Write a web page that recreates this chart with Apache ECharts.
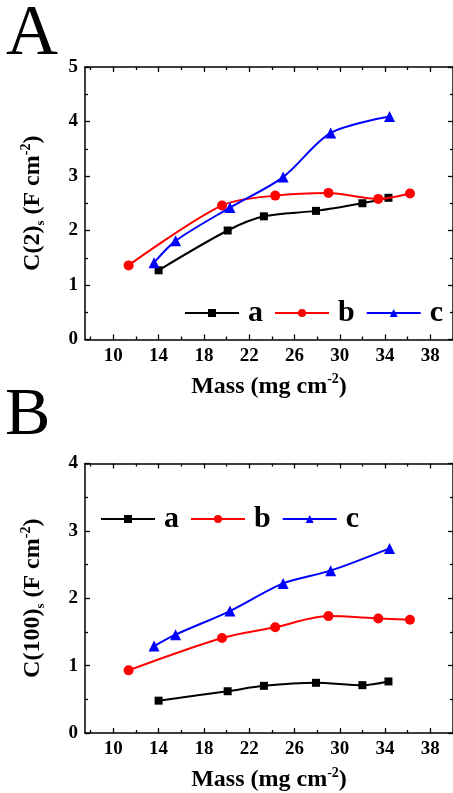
<!DOCTYPE html>
<html><head><meta charset="utf-8">
<script src="https://cdn.jsdelivr.net/npm/echarts@6/dist/echarts.min.js"></script>
<style>html,body{margin:0;padding:0;background:#fff;}#c{width:453px;height:793px;}</style>
</head><body><div id="c"></div>
<script>
// ---- data ----
var seriesNames = ['a', 'b', 'c'];
var massA = [14.0, 20.1, 23.3, 27.9, 32.0, 34.3];
var massB = [11.35, 19.6, 24.3, 29.0, 33.4, 36.2];
var massC = [13.6, 15.5, 20.3, 25.0, 29.2, 34.4];
// Panel A: C(2)s
var c2A = [1.27, 2.00, 2.26, 2.36, 2.50, 2.60];
var c2B = [1.36, 2.46, 2.64, 2.69, 2.58, 2.68];
var c2C = [1.41, 1.81, 2.42, 2.98, 3.79, 4.09];
// Panel B: C(100)s
var c100A = [0.48, 0.62, 0.70, 0.745, 0.71, 0.765];
var c100B = [0.93, 1.41, 1.57, 1.735, 1.70, 1.68];
var c100C = [1.29, 1.46, 1.81, 2.22, 2.41, 2.74];
// ticks
var xMajorTicks = [10, 14, 18, 22, 26, 30, 34, 38];
var xMinorTicks = [8, 12, 16, 20, 24, 28, 32, 36, 40];
var xRange = [7.5, 40];
var yMaxA = 5, yMaxB = 4;

function zip(xs, ys) { return xs.map(function (x, i) { return [x, ys[i]]; }); }

var FONT = 'Liberation Serif';
var colors = ['#000000', '#ff0000', '#0000ff'];
var symbols = ['rect', 'circle', 'triangle'];
var symSizes = [8, 10, 11];

var rich = {
  n: { fontFamily: FONT, fontWeight: 'bold', fontSize: 24, color: '#000', lineHeight: 28 },
  sub: { fontFamily: FONT, fontWeight: 'bold', fontSize: 13, color: '#000', verticalAlign: 'bottom', lineHeight: 28 },
  sup: { fontFamily: FONT, fontWeight: 'bold', fontSize: 14, color: '#000', verticalAlign: 'top', lineHeight: 28 }
};

function xAxes(gi) {
  var base = { type: 'value', gridIndex: gi, min: xRange[0], max: xRange[1], splitLine: { show: false } };
  var line = { show: true, lineStyle: { color: '#000', width: 1.5 } };
  return [
    Object.assign({}, base, {
      position: 'bottom', axisLine: line,
      axisTick: { show: true, inside: true, length: 5, customValues: xMajorTicks, lineStyle: { color: '#000', width: 1.3 } },
      axisLabel: { show: true, customValues: xMajorTicks, margin: 7, fontFamily: FONT, fontWeight: 'bold', fontSize: 19, color: '#000' },
      name: '{n|Mass (mg cm}{sup|-2}{n|)}', nameLocation: 'middle', nameGap: 33,
      nameTextStyle: { rich: rich }
    }),
    Object.assign({}, base, {
      position: 'bottom', axisLine: { show: false },
      axisTick: { show: true, inside: true, length: 3, customValues: xMinorTicks, lineStyle: { color: '#000', width: 1.3 } },
      axisLabel: { show: false }
    }),
    Object.assign({}, base, {
      position: 'top', axisLine: line,
      axisTick: { show: true, inside: true, length: 5, customValues: xMajorTicks, lineStyle: { color: '#000', width: 1.3 } },
      axisLabel: { show: false }
    }),
    Object.assign({}, base, {
      position: 'top', axisLine: { show: false },
      axisTick: { show: true, inside: true, length: 3, customValues: xMinorTicks, lineStyle: { color: '#000', width: 1.3 } },
      axisLabel: { show: false }
    })
  ];
}

function yAxes(gi, ymax, nameStr) {
  var line = { show: true, lineStyle: { color: '#000', width: 1.5 } };
  return [
    {
      type: 'value', gridIndex: gi, position: 'left', min: 0, max: ymax, interval: 1,
      splitLine: { show: false }, axisLine: line,
      axisTick: { show: true, inside: true, length: 5, lineStyle: { color: '#000', width: 1.3 } },
      minorTick: { show: true, splitNumber: 2, length: 3, lineStyle: { color: '#000', width: 1.3 } },
      axisLabel: { margin: 7, fontFamily: FONT, fontWeight: 'bold', fontSize: 19, color: '#000' },
      name: nameStr, nameLocation: 'middle', nameGap: 38, nameRotate: 90,
      nameTextStyle: { rich: rich }
    },
    {
      type: 'value', gridIndex: gi, position: 'right', min: 0, max: ymax, interval: 1,
      splitLine: { show: false }, axisLine: line,
      axisTick: { show: true, inside: true, length: 5, lineStyle: { color: '#000', width: 1.3 } },
      minorTick: { show: true, splitNumber: 2, length: 3, lineStyle: { color: '#000', width: 1.3 } },
      axisLabel: { show: false }
    }
  ];
}

function mkSeries(i, xs, ys, xi, yi) {
  return {
    name: seriesNames[i], type: 'line', xAxisIndex: xi, yAxisIndex: yi,
    data: zip(xs, ys), smooth: 0.3,
    symbol: symbols[i], symbolSize: symSizes[i], showAllSymbol: true,
    lineStyle: { color: colors[i], width: 2 },
    itemStyle: { color: colors[i] },
    z: 3 + i
  };
}

var legendText = { fontFamily: FONT, fontWeight: 'bold', fontSize: 30, color: '#000', padding: [0, 0, 0, 4] };

var option = {
  animation: false,
  backgroundColor: '#fff',
  title: [
    { text: 'A', left: 6, top: -1, padding: [0, 0, 0, 0], textStyle: { fontFamily: FONT, fontWeight: 'normal', fontSize: 72, color: '#000', lineHeight: 72 } },
    { text: 'B', left: 5, top: 382, padding: [0, 0, 0, 0], textStyle: { fontFamily: FONT, fontWeight: 'normal', fontSize: 68, color: '#000', lineHeight: 68 } }
  ],
  legend: [
    { data: seriesNames, left: 184, top: 298, padding: 0, width: 280, itemWidth: 54, itemHeight: 10, itemGap: 11, textStyle: legendText, selectedMode: false },
    { data: seriesNames, left: 100, top: 504, padding: 0, width: 300, itemWidth: 54, itemHeight: 10, itemGap: 11, textStyle: legendText, selectedMode: false }
  ],
  grid: [
    { left: 85, top: 67, width: 371, height: 272.5 },
    { left: 85, top: 463.5, width: 371, height: 272 }
  ],
  xAxis: xAxes(0).concat(xAxes(1)),
  yAxis: yAxes(0, yMaxA, '{n|C(2)}{sub|s}{n| (F cm}{sup|-2}{n|)}').concat(yAxes(1, yMaxB, '{n|C(100)}{sub|s}{n| (F cm}{sup|-2}{n|)}')),
  series: [
    mkSeries(0, massA, c2A, 0, 0),
    mkSeries(1, massB, c2B, 0, 0),
    mkSeries(2, massC, c2C, 0, 0),
    mkSeries(0, massA, c100A, 4, 2),
    mkSeries(1, massB, c100B, 4, 2),
    mkSeries(2, massC, c100C, 4, 2)
  ]
};

var chart = echarts.init(document.getElementById('c'), null, { renderer: 'canvas' });
chart.setOption(option);
</script>
</body></html>
